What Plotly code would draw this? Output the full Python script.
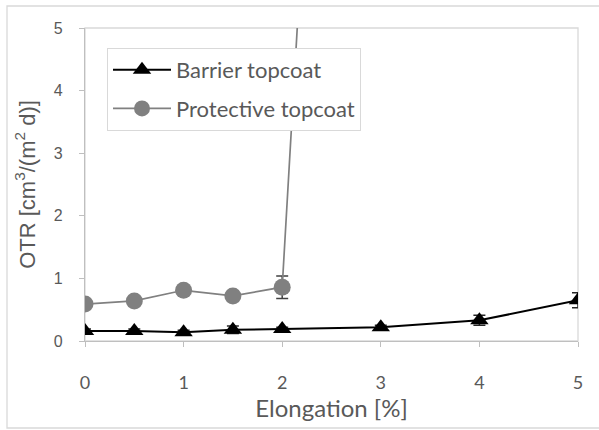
import plotly.graph_objects as go

# Data
barrier_x = [0, 0.5, 1, 1.5, 2, 3, 4, 5]
barrier_y = [0.16, 0.16, 0.14, 0.18, 0.19, 0.22, 0.33, 0.65]
barrier_err = [0.03, 0.03, 0.03, 0.06, 0.03, 0.03, 0.08, 0.12]

protective_x = [0, 0.5, 1, 1.5, 2, 3]
protective_y = [0.59, 0.64, 0.81, 0.72, 0.86, 28.0]
protective_err = [0.03, 0.03, 0.03, 0.04, 0.18, 0.0]

x_ticks = [0, 1, 2, 3, 4, 5]
y_ticks = [0, 1, 2, 3, 4, 5]

W, H = 599, 430
L, R, T, B = 85, 578, 28, 341  # plot area in pixels
FONT = "Lato"
FONT_Y = "Liberation Sans"
TXT = "#595959"

fig = go.Figure()
fig.add_trace(go.Scatter(
    x=barrier_x, y=barrier_y, name="Barrier topcoat", mode="lines+markers",
    line=dict(color="black", width=2),
    marker=dict(symbol="triangle-up", size=16, color="black"),
    error_y=dict(type="data", array=barrier_err, color="#262626", thickness=1.5, width=6),
    legendgroup="a",
))
fig.add_trace(go.Scatter(
    x=protective_x, y=protective_y, name="Protective topcoat", mode="lines+markers",
    line=dict(color="#808080", width=1.7),
    marker=dict(symbol="circle", size=17, color="#808080"),
    error_y=dict(type="data", array=protective_err, color="#404040", thickness=1.5, width=6),
    legendgroup="b",
))

def px_x(p):
    return (p - L) / (R - L)

def px_y(p):
    return (B - p) / (B - T)

# outer chart border and plot frame
fig.add_shape(type="rect", xref="paper", yref="paper",
              x0=px_x(7), x1=px_x(640), y0=px_y(428), y1=px_y(6),
              line=dict(color="#d9d9d9", width=1.3), layer="below")
fig.add_shape(type="rect", xref="paper", yref="paper",
              x0=0, x1=1, y0=0, y1=1,
              line=dict(color="#d9d9d9", width=1.3), layer="below")

fig.update_layout(
    width=W, height=H,
    margin=dict(l=L, r=W - R, t=T, b=H - B),
    paper_bgcolor="white", plot_bgcolor="white",
    font=dict(family=FONT, color=TXT, size=16),
    showlegend=True,
    legend=dict(
        x=px_x(107), y=px_y(48), xanchor="left", yanchor="top",
        bordercolor="#d9d9d9", borderwidth=1, bgcolor="white",
        font=dict(size=22, family=FONT, color=TXT),
        traceorder="grouped", tracegroupgap=7, itemwidth=58,
    ),
    xaxis=dict(
        range=[0, 5], tickvals=x_ticks, ticktext=[str(v) for v in x_ticks],
        showgrid=False, zeroline=False, showline=True, linecolor="#bfbfbf", linewidth=1.3,
        ticks="outside", ticklen=5, tickcolor="#bfbfbf",
        tickfont=dict(size=18, color=TXT), ticklabelstandoff=20,
        title=dict(text="Elongation [%]", font=dict(size=24, color=TXT), standoff=0),
    ),
    yaxis=dict(
        range=[0, 5], tickvals=y_ticks, ticktext=[str(v) for v in y_ticks],
        showgrid=False, zeroline=False, showline=True, linecolor="#bfbfbf", linewidth=1.3,
        ticks="outside", ticklen=5, tickcolor="#bfbfbf",
        tickfont=dict(size=16, color=TXT, family=FONT_Y), ticklabelstandoff=13,
        title=dict(text="OTR [cm<sup>3</sup>/(m<sup>2</sup> d)]",
                   font=dict(size=22, color=TXT, family=FONT_Y), standoff=12),
    ),
)

fig.write_html("out.html", config={"displayModeBar": False},
               post_script="document.body.style.margin='0';document.body.style.overflow='hidden';")
